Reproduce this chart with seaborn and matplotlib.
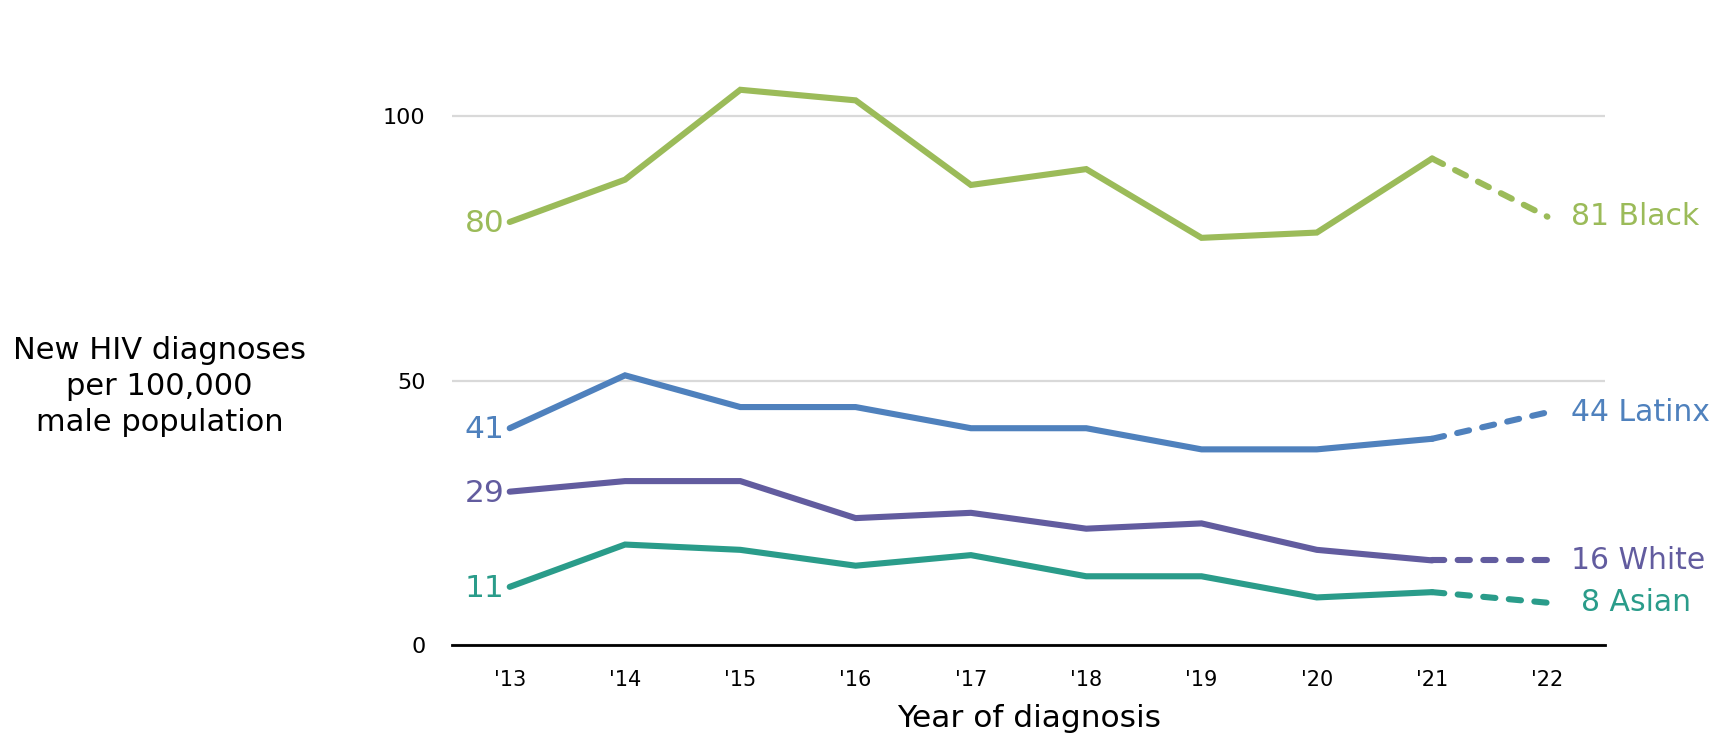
import matplotlib
matplotlib.use("Agg")
import matplotlib.pyplot as plt
import seaborn as sns
import pandas as pd

# Rates of new HIV diagnoses per 100,000 male population, by race/ethnicity
years = ["'13", "'14", "'15", "'16", "'17", "'18", "'19", "'20", "'21", "'22"]
black = [80, 88, 105, 103, 87, 90, 77, 78, 92, 81]
latinx = [41, 51, 45, 45, 41, 41, 37, 37, 39, 44]
white = [29, 31, 31, 24, 25, 22, 23, 18, 16, 16]
asian = [11, 19, 18, 15, 17, 13, 13, 9, 10, 8]

groups = ["Black", "Latinx", "White", "Asian"]
series = {"Black": black, "Latinx": latinx, "White": white, "Asian": asian}
colors = {"Black": "#9BBB59", "Latinx": "#4F81BD", "White": "#625C9F", "Asian": "#2A9C8A"}

rows = []
for g in groups:
    for i, v in enumerate(series[g]):
        rows.append({"pos": i, "year": years[i], "group": g, "rate": v})
df = pd.DataFrame(rows)
last = len(years) - 1
solid = df[df["pos"] <= last - 1]
dashed = df[df["pos"] >= last - 1]

sns.set_theme(style="white")
plt.rcParams["font.family"] = ["DejaVu Sans"]

fig = plt.figure(figsize=(17.15, 7.37), dpi=100)
ax = fig.add_axes([0.2636, 0.1248, 0.6723, 0.861])

lw = 4.4
sns.lineplot(data=solid, x="pos", y="rate", hue="group", palette=colors,
             hue_order=groups, linewidth=lw, legend=False, ax=ax,
             solid_capstyle="round", solid_joinstyle="miter")
sns.lineplot(data=dashed, x="pos", y="rate", hue="group", palette=colors,
             hue_order=groups, linewidth=lw, legend=False, ax=ax,
             dashes=False)
# The most recent year is provisional: draw that segment dashed
for line in ax.lines[len(groups):]:
    line.set_dashes([2.0, 2.2])
    line.set_dash_capstyle("round")

ax.set_xlim(-0.5, last + 0.5)
ax.set_ylim(0, 120)
ax.set_yticks([0, 50, 100])
ax.set_xticks(range(len(years)))
ax.set_xticklabels(years)
ax.tick_params(axis="y", labelsize=16, pad=19, length=0, labelcolor="black")
ax.tick_params(axis="x", labelsize=15, pad=18, length=0, labelcolor="black")

ax.grid(axis="y", color="#D9D9D9", linewidth=1.6)
ax.grid(axis="x", visible=False)
for side in ["top", "right", "left"]:
    ax.spines[side].set_visible(False)
ax.spines["bottom"].set_color("black")
ax.spines["bottom"].set_linewidth(2)
ax.spines["bottom"].set_zorder(3)

ax.set_xlabel("Year of diagnosis", fontsize=22.5, labelpad=10, color="black")
ax.set_ylabel("")
fig.text(0.093, 0.476, "New HIV diagnoses\nper 100,000\nmale population",
         ha="center", va="center", fontsize=22, linespacing=1.3, color="black")

# Start and end value labels
for g in groups:
    vals = series[g]
    ax.annotate(f"{vals[0]}", xy=(0, vals[0]), xytext=(-4, -1),
                textcoords="offset points", ha="right", va="center",
                fontsize=22.5, color=colors[g])
    dx = 17 if g != "Asian" else 24
    ax.annotate(f"{vals[-1]} {g}", xy=(last, vals[-1]), xytext=(dx, 0),
                textcoords="offset points", ha="left", va="center",
                fontsize=21.5, color=colors[g], annotation_clip=False)

fig.savefig("out.png", dpi=100)
